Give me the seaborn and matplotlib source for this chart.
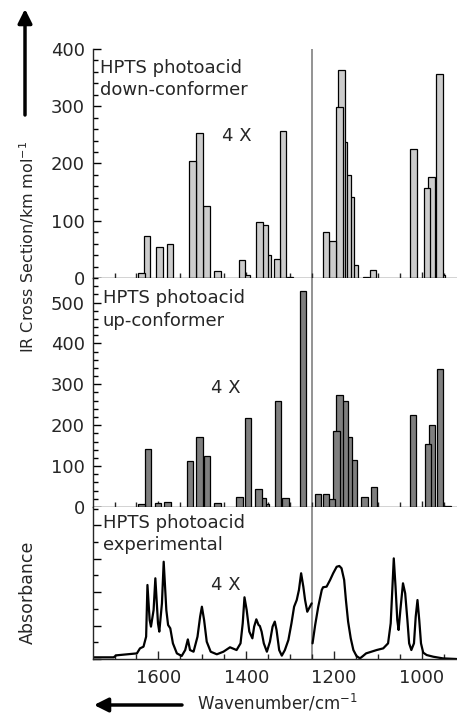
import numpy as np
import pandas as pd
import matplotlib
matplotlib.use("Agg")
import matplotlib.pyplot as plt
from matplotlib.ticker import MultipleLocator
import seaborn as sns

# ---------------- data ----------------
down_wn = [1638, 1626, 1598, 1574, 1523, 1507, 1491, 1466, 1410, 1400, 1370, 1359,
           1351, 1330, 1316, 1300, 1218, 1203, 1188, 1183, 1177, 1168, 1161, 1154,
           1127, 1111, 1019, 988, 978, 960, 955]
down_val = [8, 74, 54, 59, 204, 254, 126, 13, 31, 5, 97, 93,
            40, 34, 256, 2, 80, 64, 299, 363, 238, 180, 142, 22,
            2, 14, 225, 157, 177, 357, 5]

up_wn = [1638, 1624, 1601, 1579, 1528, 1506, 1489, 1465, 1416, 1396, 1372, 1362,
         1355, 1328, 1311, 1271, 1237, 1218, 1206, 1195, 1188, 1176, 1167, 1155,
         1131, 1109, 1020, 986, 977, 959, 955, 942]
up_val = [7, 143, 10, 13, 112, 170, 124, 10, 24, 218, 45, 21,
          7, 258, 21, 528, 32, 32, 20, 185, 275, 258, 171, 116,
          24, 49, 226, 155, 200, 338, 3, 2]

# experimental spectrum, region 1 (high wavenumber side of the split)
exp1_wn = [1755, 1702, 1696, 1649, 1642, 1634, 1628, 1625, 1620, 1617, 1611, 1607,
           1601, 1598, 1592, 1588, 1582, 1578, 1573, 1567, 1558, 1547, 1539, 1533,
           1528, 1520, 1511, 1505, 1501, 1496, 1490, 1481, 1467, 1452, 1437, 1422,
           1413, 1408, 1404, 1399, 1393, 1386, 1382, 1377, 1372, 1369, 1365, 1360,
           1353, 1346, 1340, 1335, 1331, 1325, 1319, 1312, 1304, 1297, 1291, 1285,
           1280, 1275, 1270, 1266, 1261, 1255, 1251]
exp1_abs = [0.011, 0.011, 0.024, 0.037, 0.070, 0.081, 0.147, 0.487, 0.257, 0.213, 0.322, 0.531,
            0.235, 0.180, 0.366, 0.640, 0.322, 0.224, 0.202, 0.103, 0.037, 0.020, 0.059, 0.129,
            0.059, 0.048, 0.147, 0.279, 0.344, 0.257, 0.114, 0.048, 0.031, 0.048, 0.077, 0.059,
            0.103, 0.235, 0.406, 0.322, 0.180, 0.136, 0.213, 0.261, 0.224, 0.217, 0.180, 0.103,
            0.048, 0.114, 0.213, 0.246, 0.191, 0.059, 0.022, 0.059, 0.125, 0.235, 0.344, 0.388,
            0.454, 0.564, 0.476, 0.388, 0.311, 0.344, 0.366]

# experimental spectrum, region 2 (low wavenumber side of the split)
exp2_wn = [1249, 1243, 1236, 1228, 1225, 1217, 1209, 1202, 1194, 1188, 1183, 1177,
           1173, 1168, 1162, 1156, 1149, 1141, 1134, 1127, 1115, 1103, 1088, 1077,
           1071, 1067, 1064, 1060, 1056, 1053, 1049, 1043, 1038, 1033, 1029, 1024,
           1018, 1014, 1010, 1006, 1002, 997, 989, 974, 952, 921]
exp2_abs = [0.103, 0.224, 0.344, 0.454, 0.472, 0.476, 0.520, 0.564, 0.607, 0.612, 0.597, 0.520,
            0.388, 0.246, 0.136, 0.059, 0.020, 0.004, 0.020, 0.037, 0.048, 0.059, 0.070, 0.103,
            0.235, 0.476, 0.662, 0.476, 0.257, 0.191, 0.322, 0.498, 0.432, 0.257, 0.103, 0.059,
            0.103, 0.279, 0.388, 0.257, 0.103, 0.042, 0.026, 0.015, 0.004, 0.0]

x_ticks = [1600, 1400, 1200, 1000]
split_wn = 1250

# ---------------- style ----------------
sns.set_style("ticks")
plt.rcParams["font.family"] = ["DejaVu Sans"]
plt.rcParams["axes.linewidth"] = 1.0
plt.rcParams["mathtext.default"] = "regular"

W, H = 457, 714
fig = plt.figure(figsize=(W / 100, H / 100), dpi=100)

left = 93 / W
width = 1 - left
ax1 = fig.add_axes([left, 1 - 278 / H, width, 229 / H])
ax2 = fig.add_axes([left, 1 - 507 / H, width, 229 / H])
ax3 = fig.add_axes([left, 1 - 659 / H, width, 152 / H])

BAR_W = 15.0  # cm^-1


def bars(ax, wn, val, color):
    df = pd.DataFrame({"wn": wn, "val": val})
    native = np.min(np.diff(np.unique(df["wn"])))
    sns.barplot(data=df, x="wn", y="val", native_scale=True, orient="x",
                width=BAR_W / native, color=color, saturation=1,
                edgecolor="black", linewidth=0.9, errorbar=None, ax=ax)


bars(ax1, down_wn, down_val, "#cccccc")
bars(ax2, up_wn, up_val, "#7f7f7f")

sns.lineplot(x=exp1_wn, y=exp1_abs, sort=False, estimator=None, color="black",
             linewidth=1.6, ax=ax3)
sns.lineplot(x=exp2_wn, y=exp2_abs, sort=False, estimator=None, color="black",
             linewidth=1.6, ax=ax3)

for ax in (ax1, ax2, ax3):
    ax.set_xlim(1749, 920)
    ax.axvline(split_wn, color="#8a8a8a", lw=1.3, zorder=0.5)
    ax.spines["top"].set_visible(False)
    ax.spines["right"].set_visible(False)
    ax.set_xlabel("")
    ax.set_ylabel("")
    ax.xaxis.set_major_locator(plt.FixedLocator(x_ticks))
    ax.xaxis.set_minor_locator(MultipleLocator(50))
    ax.tick_params(axis="y", which="both", direction="in", labelsize=13, pad=6,
                   width=1.0, color="black")
    ax.tick_params(axis="y", which="major", length=6)
    ax.tick_params(axis="y", which="minor", length=3.5)

for ax in (ax1, ax2):
    ax.tick_params(axis="x", which="both", direction="inout", labelbottom=False,
                   width=1.0)
    ax.tick_params(axis="x", which="major", length=9)
    ax.tick_params(axis="x", which="minor", length=7)
    ax.yaxis.set_major_locator(MultipleLocator(100))
    ax.yaxis.set_minor_locator(MultipleLocator(20))

ax1.set_ylim(0, 400)
ax1.set_yticks([0, 100, 200, 300, 400])
ax2.set_ylim(0, 560)
ax2.set_yticks([0, 100, 200, 300, 400, 500])

ax3.set_ylim(0, 1.0)
ax3.yaxis.set_major_locator(MultipleLocator(0.22))
ax3.yaxis.set_minor_locator(MultipleLocator(0.11))
ax3.tick_params(axis="y", labelleft=False)
ax3.tick_params(axis="x", which="both", direction="in", labelsize=13, pad=7, width=1.0)
ax3.tick_params(axis="x", which="major", length=6)
ax3.tick_params(axis="x", which="minor", length=3.5)
ax3.set_xticklabels([str(t) for t in x_ticks])

# panel annotations
kw = dict(fontsize=13, linespacing=1.3, va="top", ha="left")
ax1.text(0.02, 0.958, "HPTS photoacid\ndown-conformer", transform=ax1.transAxes, **kw)
ax2.text(0.027, 0.95, "HPTS photoacid\nup-conformer", transform=ax2.transAxes, **kw)
ax3.text(0.027, 0.955, "HPTS photoacid\nexperimental", transform=ax3.transAxes, **kw)
ax1.text(1421, 248, "4 X", fontsize=13, ha="center", va="center")
ax2.text(1446, 292, "4 X", fontsize=13, ha="center", va="center")
ax3.text(1446, 0.49, "4 X", fontsize=13, ha="center", va="center")

# axis labels
fig.text(27 / W, 1 - 247 / H, "IR Cross Section/km mol$^{-1}$", rotation=90,
         ha="center", va="center", fontsize=11.5)
fig.text(28 / W, 1 - 592 / H, "Absorbance", rotation=90, ha="center", va="center",
         fontsize=12.5)
fig.text(197 / W, 1 - 703 / H, "Wavenumber/cm$^{-1}$", ha="left", va="center",
         fontsize=12)

# arrows
arrow_kw = dict(arrowstyle="-|>,head_length=0.6,head_width=0.3", lw=2.5, color="black",
                shrinkA=0, shrinkB=0)
fig.add_artist(matplotlib.patches.FancyArrowPatch((25 / W, 1 - 115 / H), (25 / W, 1 - 9 / H),
                                                  transform=fig.transFigure,
                                                  mutation_scale=14, **arrow_kw))
fig.add_artist(matplotlib.patches.FancyArrowPatch((182 / W, 1 - 705 / H), (94 / W, 1 - 705 / H),
                                                  transform=fig.transFigure,
                                                  mutation_scale=14, **arrow_kw))

fig.savefig("out.png", dpi=100)
